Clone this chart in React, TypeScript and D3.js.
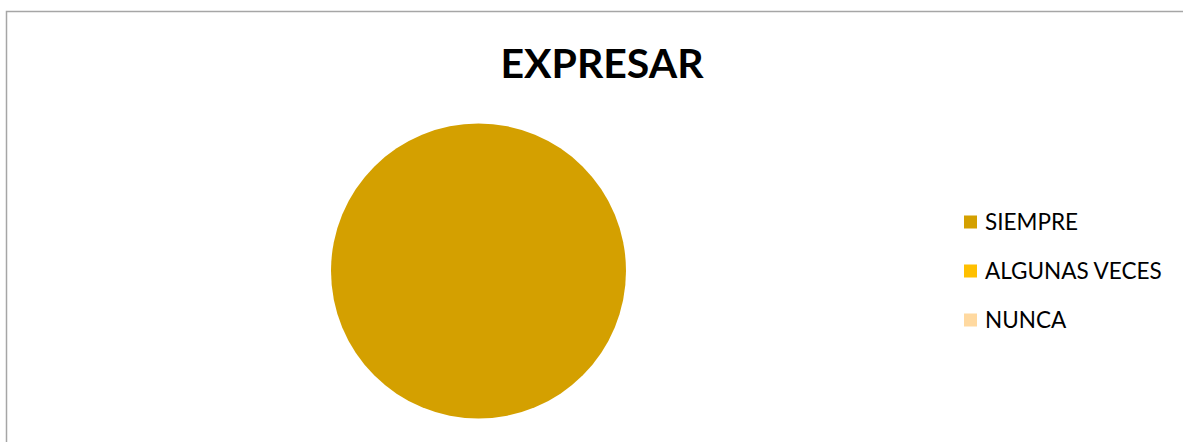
import { useEffect, useRef } from "react"
import * as d3 from "d3"

const categories = ["SIEMPRE", "ALGUNAS VECES", "NUNCA"]
const values = [100, 0, 0]
const colors = ["#d4a000", "#ffc000", "#ffd9a0"]

const W = 1183
const H = 442

export default function App() {
  const ref = useRef<SVGSVGElement>(null)

  useEffect(() => {
    const svg = d3.select(ref.current)
    svg.selectAll("*").remove()

    // chart frame (runs off the right and bottom edges)
    svg.append("rect")
      .attr("x", 6.5)
      .attr("y", 11.5)
      .attr("width", W)
      .attr("height", H)
      .attr("fill", "#ffffff")
      .attr("stroke", "#a6a6a6")
      .attr("stroke-width", 1.5)

    // title
    svg.append("text")
      .attr("x", 602)
      .attr("y", 78)
      .attr("text-anchor", "middle")
      .attr("font-family", "Lato, 'Open Sans', sans-serif")
      .attr("font-weight", "bold")
      .attr("font-size", 41)
      .attr("fill", "#000000")
      .text("EXPRESAR")

    const data = categories.map((c, i) => ({ name: c, value: values[i] }))
    const color = d3.scaleOrdinal<string, string>().domain(categories).range(colors)

    const pie = d3.pie<{ name: string; value: number }>()
      .sort(null)
      .value(d => d.value)
    const arc = d3.arc<d3.PieArcDatum<{ name: string; value: number }>>()
      .innerRadius(0)
      .outerRadius(147.5)

    const g = svg.append("g").attr("transform", "translate(478.5,271)")
    g.selectAll("path")
      .data(pie(data).filter(d => d.data.value > 0))
      .join("path")
      .attr("d", arc)
      .attr("fill", d => color(d.data.name))

    // legend
    const legend = svg.append("g").attr("transform", "translate(964,222)")
    const row = legend.selectAll("g")
      .data(categories)
      .join("g")
      .attr("transform", (_, i) => `translate(0,${i * 49})`)
    row.append("rect")
      .attr("x", 0)
      .attr("y", -6.5)
      .attr("width", 13)
      .attr("height", 13)
      .attr("fill", d => color(d))
    row.append("text")
      .attr("x", 21)
      .attr("y", 8)
      .attr("font-family", "Lato, 'Open Sans', sans-serif")
      .attr("font-size", 22.5)
      .attr("fill", "#000000")
      .text(d => d)
  }, [])

  return (
    <svg
      ref={ref}
      width={W}
      height={H}
      style={{ position: "absolute", left: 0, top: 0, display: "block" }}
    />
  )
}
